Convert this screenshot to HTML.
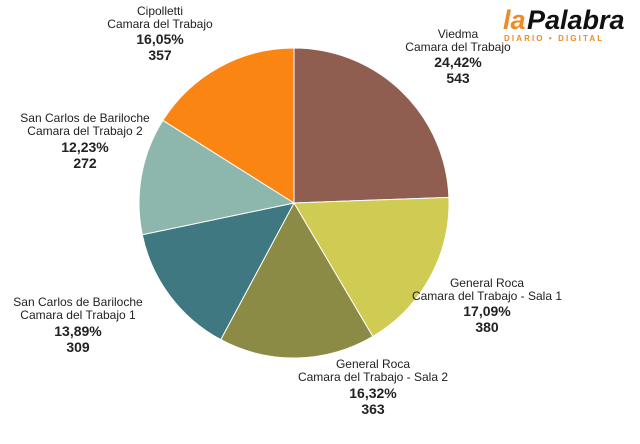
<!DOCTYPE html>
<html><head><meta charset="utf-8"><style>
body{margin:0;background:#fff;width:640px;height:444px;overflow:hidden}
svg{display:block}
text{font-family:"Liberation Sans",sans-serif;fill:#222;text-anchor:middle}
.n{font-size:12px}.b{font-size:14px;font-weight:bold}
</style></head><body>
<svg id="s" width="640" height="444" viewBox="0 0 640 444">
<g id="pie"></g>
<text x="160" y="15" class="n">Cipolletti</text>
<text x="160" y="28" class="n">Camara del Trabajo</text>
<text x="160" y="44" class="b">16,05%</text>
<text x="160" y="60" class="b">357</text>
<text x="458" y="38" class="n">Viedma</text>
<text x="458" y="51" class="n">Camara del Trabajo</text>
<text x="458" y="67" class="b">24,42%</text>
<text x="458" y="83" class="b">543</text>
<text x="85" y="122" class="n">San Carlos de Bariloche</text>
<text x="85" y="135" class="n">Camara del Trabajo 2</text>
<text x="85" y="152" class="b">12,23%</text>
<text x="85" y="168" class="b">272</text>
<text x="78" y="306" class="n">San Carlos de Bariloche</text>
<text x="78" y="319" class="n">Camara del Trabajo 1</text>
<text x="78" y="336" class="b">13,89%</text>
<text x="78" y="352" class="b">309</text>
<text x="373" y="368" class="n">General Roca</text>
<text x="373" y="381" class="n">Camara del Trabajo - Sala 2</text>
<text x="373" y="398" class="b">16,32%</text>
<text x="373" y="414" class="b">363</text>
<text x="487" y="287" class="n">General Roca</text>
<text x="487" y="300" class="n">Camara del Trabajo - Sala 1</text>
<text x="487" y="316" class="b">17,09%</text>
<text x="487" y="332" class="b">380</text>
<text x="503" y="29" style="font-size:27px;font-weight:bold;font-style:italic;fill:#f08a24;text-anchor:start">la</text>
<text x="527" y="29" style="font-size:27px;font-weight:bold;font-style:italic;fill:#111;text-anchor:start">Palabra</text>
<text x="504" y="41" style="font-size:8px;font-weight:bold;fill:#f08a24;text-anchor:start;letter-spacing:2.1px">DIARIO • DIGITAL</text>
</svg>
<script>
var cx=294,cy=203,r=155;
var d=[[24.42,"#8F5E50"],[17.09,"#CFCB53"],[16.32,"#8B8B45"],[13.89,"#3F7880"],[12.23,"#8DB7AC"],[16.05,"#FA8513"]];
var a=-Math.PI/2,h="";
d.forEach(function(s){var b=a+s[0]/100*2*Math.PI;
var x1=cx+r*Math.cos(a),y1=cy+r*Math.sin(a),x2=cx+r*Math.cos(b),y2=cy+r*Math.sin(b);
h+='<path d="M'+cx+' '+cy+'L'+x1+' '+y1+'A'+r+' '+r+' 0 '+((b-a)>Math.PI?1:0)+' 1 '+x2+' '+y2+'Z" fill="'+s[1]+'" stroke="#fff" stroke-width="1"/>';a=b;});
document.getElementById("pie").innerHTML=h;
</script>
</body></html>
